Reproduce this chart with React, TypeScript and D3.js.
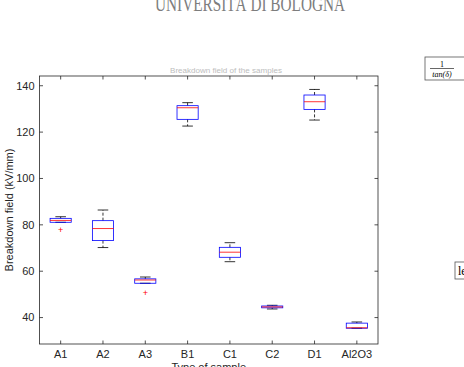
import React, { useEffect, useRef } from 'react';
import * as d3 from 'd3';

// sample types and box statistics (kV/mm)
const categories = ['A1', 'A2', 'A3', 'B1', 'C1', 'C2', 'D1', 'Al2O3'];
const whiskerHigh = [83.5, 86.4, 57.5, 132.7, 72.3, 45.3, 138.4, 38.1];
const q3 = [82.8, 81.8, 56.7, 131.4, 70.3, 45.0, 136.0, 37.6];
const median = [81.9, 78.4, 56.2, 130.5, 68.2, 44.6, 133.1, 35.6];
const q1 = [81.1, 73.2, 54.8, 125.5, 66.0, 44.2, 129.8, 35.4];
const whiskerLow = [81.1, 70.2, 54.8, 122.6, 64.1, 43.7, 125.2, 35.4];
const outliers = [[78.0], [], [50.8], [], [], [], [], []];
const yTicks = [40, 60, 80, 100, 120, 140];

export default function App() {
  const ref = useRef<SVGSVGElement>(null);

  useEffect(() => {
    document.body.style.margin = '0';
    const svg = d3.select(ref.current);
    svg.selectAll('*').remove();

    const width = 464;
    const height = 367;
    const margin = { top: 76, left: 39.5, bottom: 23, right: 86 };
    const iwidth = width - margin.left - margin.right;
    const iheight = height - margin.top - margin.bottom;
    const font = 'Liberation Sans, Arial, sans-serif';

    // header watermark
    svg.append('text')
      .attr('x', 155).attr('y', 11)
      .attr('textLength', 190)
      .attr('lengthAdjust', 'spacingAndGlyphs')
      .style('font-family', 'Liberation Serif, serif')
      .style('font-size', '21px')
      .attr('fill', '#7d7d7d')
      .text('UNIVERSITÀ DI BOLOGNA');

    const g = svg.append('g').attr('transform', `translate(${margin.left},${margin.top})`);

    const x = d3.scaleBand().domain(categories).range([0, iwidth]);
    const y = d3.scaleLinear().domain([28.6, 144.2]).range([iheight, 0]);
    const bw = x.bandwidth() * 0.5;
    const cw = bw * 0.5;

    // faint title (mostly hidden)
    g.append('text')
      .attr('x', 170 - margin.left).attr('y', -3)
      .attr('textLength', 112)
      .attr('lengthAdjust', 'spacingAndGlyphs')
      .style('font-family', font)
      .style('font-size', '7px')
      .attr('fill', '#bdbdbd')
      .text('Breakdown field of the samples');

    // frame
    g.append('rect')
      .attr('width', iwidth).attr('height', iheight)
      .attr('fill', 'none').attr('stroke', '#262626').attr('stroke-width', 0.8);

    // y ticks on both sides
    const tickLen = 3.5;
    yTicks.forEach(t => {
      g.append('line').attr('x1', 0).attr('x2', tickLen).attr('y1', y(t)).attr('y2', y(t))
        .attr('stroke', '#262626').attr('stroke-width', 0.8);
      g.append('line').attr('x1', iwidth).attr('x2', iwidth - tickLen).attr('y1', y(t)).attr('y2', y(t))
        .attr('stroke', '#262626').attr('stroke-width', 0.8);
      g.append('text').attr('x', -5).attr('y', y(t)).attr('dy', '0.35em')
        .attr('text-anchor', 'end')
        .style('font-family', font).style('font-size', '11px').attr('fill', '#262626')
        .text(t);
    });

    // x ticks top and bottom
    categories.forEach(c => {
      const cx = (x(c) as number) + x.bandwidth() / 2;
      g.append('line').attr('x1', cx).attr('x2', cx).attr('y1', iheight).attr('y2', iheight - tickLen)
        .attr('stroke', '#262626').attr('stroke-width', 0.8);
      g.append('line').attr('x1', cx).attr('x2', cx).attr('y1', 0).attr('y2', tickLen)
        .attr('stroke', '#262626').attr('stroke-width', 0.8);
      g.append('text').attr('x', cx).attr('y', iheight + 14)
        .attr('text-anchor', 'middle')
        .style('font-family', font).style('font-size', '11px').attr('fill', '#262626')
        .text(c);
    });

    // boxes
    categories.forEach((c, i) => {
      const cx = (x(c) as number) + x.bandwidth() / 2;
      const bg = g.append('g');
      // whiskers
      if (whiskerHigh[i] > q3[i]) {
        bg.append('line').attr('x1', cx).attr('x2', cx).attr('y1', y(q3[i])).attr('y2', y(whiskerHigh[i]))
          .attr('stroke', '#000').attr('stroke-width', 0.8).attr('stroke-dasharray', '3,2');
      }
      if (whiskerLow[i] < q1[i]) {
        bg.append('line').attr('x1', cx).attr('x2', cx).attr('y1', y(q1[i])).attr('y2', y(whiskerLow[i]))
          .attr('stroke', '#000').attr('stroke-width', 0.8).attr('stroke-dasharray', '3,2');
      }
      bg.append('line').attr('x1', cx - cw / 2).attr('x2', cx + cw / 2)
        .attr('y1', y(whiskerHigh[i])).attr('y2', y(whiskerHigh[i]))
        .attr('stroke', '#000').attr('stroke-width', 0.8);
      bg.append('line').attr('x1', cx - cw / 2).attr('x2', cx + cw / 2)
        .attr('y1', y(whiskerLow[i])).attr('y2', y(whiskerLow[i]))
        .attr('stroke', '#000').attr('stroke-width', 0.8);
      // box
      bg.append('rect')
        .attr('x', cx - bw / 2).attr('width', bw)
        .attr('y', y(q3[i])).attr('height', y(q1[i]) - y(q3[i]))
        .attr('fill', 'none').attr('stroke', '#0000ff').attr('stroke-width', 0.8);
      // median
      bg.append('line').attr('x1', cx - bw / 2).attr('x2', cx + bw / 2)
        .attr('y1', y(median[i])).attr('y2', y(median[i]))
        .attr('stroke', '#ff0000').attr('stroke-width', 0.8);
      // outliers
      outliers[i].forEach(o => {
        bg.append('text').attr('x', cx).attr('y', y(o)).attr('dy', '0.35em')
          .attr('text-anchor', 'middle')
          .style('font-family', font).style('font-size', '9px').attr('fill', '#ff0000')
          .text('+');
      });
    });

    // axis labels
    svg.append('text')
      .attr('transform', `translate(13,${margin.top + iheight / 2}) rotate(-90)`)
      .attr('text-anchor', 'middle')
      .style('font-family', font).style('font-size', '11px').attr('fill', '#262626')
      .text('Breakdown field (kV/mm)');
    svg.append('text')
      .attr('x', margin.left + iwidth / 2).attr('y', 371)
      .attr('text-anchor', 'middle')
      .style('font-family', font).style('font-size', '11px').attr('fill', '#262626')
      .text('Type of sample');

    // annotation boxes on the right, clipped by the page edge
    const ann = svg.append('g').attr('transform', 'translate(425,57)');
    ann.append('rect').attr('width', 45).attr('height', 23)
      .attr('fill', '#fff').attr('stroke', '#555').attr('stroke-width', 0.8);
    ann.append('text').attr('x', 17).attr('y', 9.5).attr('text-anchor', 'middle')
      .style('font-family', 'Liberation Serif, serif').style('font-size', '8px').text('1');
    ann.append('line').attr('x1', 5).attr('x2', 29).attr('y1', 11.5).attr('y2', 11.5)
      .attr('stroke', '#000').attr('stroke-width', 0.6);
    ann.append('text').attr('x', 17).attr('y', 19.5).attr('text-anchor', 'middle')
      .style('font-family', 'Liberation Serif, serif').style('font-size', '8px').style('font-style', 'italic')
      .text('tan(δ)');

    const ann2 = svg.append('g').attr('transform', 'translate(455,262)');
    ann2.append('rect').attr('width', 30).attr('height', 17)
      .attr('fill', '#fff').attr('stroke', '#555').attr('stroke-width', 0.8);
    ann2.append('text').attr('x', 3).attr('y', 13)
      .style('font-family', 'Liberation Serif, serif').style('font-size', '12px')
      .text('le');
  }, []);

  return (
    <div>
      <svg ref={ref} width={464} height={367} style={{ display: 'block' }} />
    </div>
  );
}
